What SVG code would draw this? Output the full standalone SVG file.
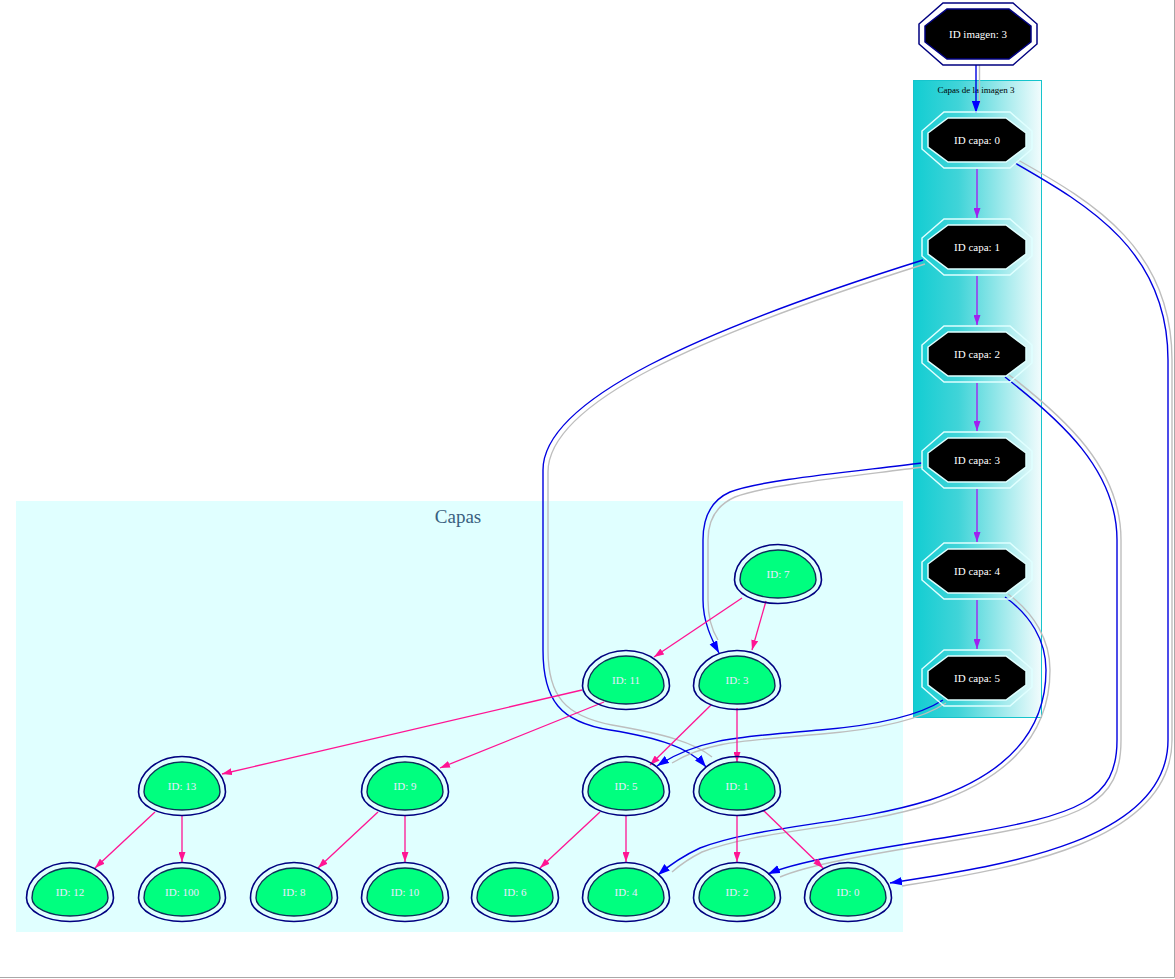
<svg xmlns="http://www.w3.org/2000/svg" width="1175" height="979" viewBox="0 0 1175 979">
<defs>
<style>
.txt{font-family:"Liberation Serif","Times New Roman",serif;font-size:11px;text-anchor:middle;dominant-baseline:central}
.w{fill:#ffffff}
.g{fill:#eaeaff}
.egg-o{fill:none;stroke:#000080;stroke-width:1.6}
.egg-i{fill:#00FF7F;stroke:#0f2f5a;stroke-width:1.4}
.oct-o{fill:none;stroke:#e0ffff;stroke-width:1.5}
.oct-i{fill:#000000;stroke:#e0ffff;stroke-width:1.5}
.pink{fill:none;stroke:#FF1493;stroke-width:1.3}
.purp{fill:none;stroke:#9B30F0;stroke-width:1.5}
.blue{fill:none;stroke:#0000E0;stroke-width:1.4}
.gray{fill:none;stroke:#BEBEBE;stroke-width:1.4}
</style>
<marker id="ap" viewBox="0 0 10 7" refX="10" refY="3.5" markerWidth="10" markerHeight="7" markerUnits="userSpaceOnUse" orient="auto"><path d="M0,0 L10,3.5 L0,7 z" fill="#FF1493"/></marker>
<marker id="au" viewBox="0 0 10 7" refX="10" refY="3.5" markerWidth="10" markerHeight="7" markerUnits="userSpaceOnUse" orient="auto"><path d="M0,0 L10,3.5 L0,7 z" fill="#A020F0"/></marker>
<marker id="ab" viewBox="0 0 10 7" refX="10" refY="3.5" markerWidth="12" markerHeight="9" markerUnits="userSpaceOnUse" orient="auto"><path d="M0,0 L10,3.5 L0,7 z" fill="#0000FF"/></marker>
<linearGradient id="cg" x1="0" y1="0" x2="1" y2="0">
<stop offset="0" stop-color="#12cdd2"/>
<stop offset="0.35" stop-color="#40d4d8"/>
<stop offset="1" stop-color="#f2fcfd"/>
</linearGradient>
<path id="eggO" d="M-43.5,6 A43.5,35.5 0 0 1 43.5,6 A43.5,23.5 0 0 1 -43.5,6 z"/>
<path id="eggI" d="M-38,6 A38,30 0 0 1 38,6 A38,18 0 0 1 -38,6 z"/>
</defs>
<rect width="1175" height="979" fill="#ffffff"/>
<polyline points="0,977.5 1174.5,977.5 1174.5,0" fill="none" stroke="#a8a8a8" stroke-width="1"/>

<g id="cluster_capas">
<rect x="16" y="501" width="887" height="431" fill="#E0FFFF"/>
<text x="458" y="516" style="font-family:'Liberation Serif','Times New Roman',serif;font-size:19px;text-anchor:middle;dominant-baseline:central" fill="#3A5F80">Capas</text>
</g>
<g id="cluster_imagen">
<rect x="913.5" y="80.5" width="128" height="637" fill="url(#cg)" stroke="#16c4cc" stroke-width="1"/>
<text x="976" y="90" style="font-family:'Liberation Serif','Times New Roman',serif;font-size:9px;text-anchor:middle;dominant-baseline:central" fill="#000">Capas de la imagen 3</text>
</g>

<g id="edges">
<path class="gray" d="M979.5,65 L979.5,104"/>
<path class="blue" d="M976,65 L976,113" marker-end="url(#ab)"/>
<path class="purp" d="M977,169 L977,218" marker-end="url(#au)"/>
<path class="purp" d="M977,276 L977,325" marker-end="url(#au)"/>
<path class="purp" d="M977,383 L977,431" marker-end="url(#au)"/>
<path class="purp" d="M977,489 L977,542" marker-end="url(#au)"/>
<path class="purp" d="M977,600 L977,649" marker-end="url(#au)"/>

<path class="gray" d="M1018,160 C1095,203 1172,250 1172,360 L1172,740 C1172,846 1000,870 902,886"/>
<path class="blue" d="M1015,163 C1090,206 1168,252 1168,360 L1168,740 C1168,842 1000,866 890,883" marker-end="url(#ab)"/>

<path class="gray" d="M925,264 C704,334 548,402 548,472 L548,650 C548,696 565,716 612,725 C665,734 695,743 712,757"/>
<path class="blue" d="M923,260 C700,330 543,400 543,470 L543,650 C543,700 560,722 610,730 C660,738 690,748 706,767" marker-end="url(#ab)"/>

<path class="gray" d="M1008,374 C1065,418 1121,468 1121,540 L1121,740 C1121,804 1084,819 962,839 C872,854 810,864 780,877"/>
<path class="blue" d="M1005,377 C1060,420 1117,470 1117,540 L1117,740 C1117,800 1080,815 960,835 C870,850 800,860 768,874" marker-end="url(#ab)"/>

<path class="gray" d="M923,467 C855,476 765,485 735,497 C717,505 708,520 708,540 L708,600 C708,620 713,632 718,640"/>
<path class="blue" d="M922,463 C850,472 760,480 730,492 C712,500 703,515 703,540 L703,600 C703,622 712,640 719,653" marker-end="url(#ab)"/>

<path class="gray" d="M1008,594 C1034,613 1050,640 1050,670 C1050,722 1024,773 932,804 C852,829 762,829 702,852 C690,858 680,865 672,872"/>
<path class="blue" d="M1005,597 C1030,615 1046,640 1046,670 C1046,720 1020,770 930,800 C850,825 760,825 700,848 C685,855 672,863 658,875" marker-end="url(#ab)"/>

<path class="gray" d="M946,703 C922,719 882,729 822,734 C744,741 708,741 672,763"/>
<path class="blue" d="M943,700 C920,715 880,725 820,730 C740,737 700,738 657,766" marker-end="url(#ab)"/>

<path class="pink" d="M742,598 L654,657" marker-end="url(#ap)"/>
<path class="pink" d="M766,601 L752,650" marker-end="url(#ap)"/>
<path class="pink" d="M582,690 L222,774" marker-end="url(#ap)"/>
<path class="pink" d="M604,702 L440,768" marker-end="url(#ap)"/>
<path class="pink" d="M711,705 L650,765" marker-end="url(#ap)"/>
<path class="pink" d="M737,708 L737,762" marker-end="url(#ap)"/>
<path class="pink" d="M155,812 L95,868" marker-end="url(#ap)"/>
<path class="pink" d="M182,815 L182,862" marker-end="url(#ap)"/>
<path class="pink" d="M378,812 L318,868" marker-end="url(#ap)"/>
<path class="pink" d="M405,815 L405,862" marker-end="url(#ap)"/>
<path class="pink" d="M600,812 L540,868" marker-end="url(#ap)"/>
<path class="pink" d="M626,815 L626,862" marker-end="url(#ap)"/>
<path class="pink" d="M737,815 L737,862" marker-end="url(#ap)"/>
<path class="pink" d="M763,810 L823,868" marker-end="url(#ap)"/>
</g>

<g id="img3" transform="translate(978,34)">
<polygon points="-35,-31 35,-31 59,-10 59,10 35,31 -35,31 -59,10 -59,-10" fill="none" stroke="#000080" stroke-width="1.5"/>
<polygon points="-31,-25 31,-25 53,-8 53,8 31,25 -31,25 -53,8 -53,-8" fill="#000" stroke="#000080" stroke-width="1.5"/>
<text class="txt w" x="0" y="0">ID imagen: 3</text>
</g>

<g id="capa0" transform="translate(977,140)">
<polygon class="oct-o" points="-33,-28 33,-28 55,-9 55,9 33,28 -33,28 -55,9 -55,-9"/>
<polygon class="oct-i" points="-29,-22 29,-22 49,-7 49,7 29,22 -29,22 -49,7 -49,-7"/>
<text class="txt w" x="0" y="0">ID capa: 0</text>
</g>
<g id="capa1" transform="translate(977,247)">
<polygon class="oct-o" points="-33,-28 33,-28 55,-9 55,9 33,28 -33,28 -55,9 -55,-9"/>
<polygon class="oct-i" points="-29,-22 29,-22 49,-7 49,7 29,22 -29,22 -49,7 -49,-7"/>
<text class="txt w" x="0" y="0">ID capa: 1</text>
</g>
<g id="capa2" transform="translate(977,354)">
<polygon class="oct-o" points="-33,-28 33,-28 55,-9 55,9 33,28 -33,28 -55,9 -55,-9"/>
<polygon class="oct-i" points="-29,-22 29,-22 49,-7 49,7 29,22 -29,22 -49,7 -49,-7"/>
<text class="txt w" x="0" y="0">ID capa: 2</text>
</g>
<g id="capa3" transform="translate(977,460)">
<polygon class="oct-o" points="-33,-28 33,-28 55,-9 55,9 33,28 -33,28 -55,9 -55,-9"/>
<polygon class="oct-i" points="-29,-22 29,-22 49,-7 49,7 29,22 -29,22 -49,7 -49,-7"/>
<text class="txt w" x="0" y="0">ID capa: 3</text>
</g>
<g id="capa4" transform="translate(977,571)">
<polygon class="oct-o" points="-33,-28 33,-28 55,-9 55,9 33,28 -33,28 -55,9 -55,-9"/>
<polygon class="oct-i" points="-29,-22 29,-22 49,-7 49,7 29,22 -29,22 -49,7 -49,-7"/>
<text class="txt w" x="0" y="0">ID capa: 4</text>
</g>
<g id="capa5" transform="translate(977,678)">
<polygon class="oct-o" points="-33,-28 33,-28 55,-9 55,9 33,28 -33,28 -55,9 -55,-9"/>
<polygon class="oct-i" points="-29,-22 29,-22 49,-7 49,7 29,22 -29,22 -49,7 -49,-7"/>
<text class="txt w" x="0" y="0">ID capa: 5</text>
</g>

<g id="n7" transform="translate(778,574)"><use href="#eggO" class="egg-o"/><use href="#eggI" class="egg-i"/><text class="txt g" x="0" y="0">ID: 7</text></g>
<g id="n11" transform="translate(626,680)"><use href="#eggO" class="egg-o"/><use href="#eggI" class="egg-i"/><text class="txt g" x="0" y="0">ID: 11</text></g>
<g id="n3" transform="translate(737,680)"><use href="#eggO" class="egg-o"/><use href="#eggI" class="egg-i"/><text class="txt g" x="0" y="0">ID: 3</text></g>
<g id="n13" transform="translate(182,786)"><use href="#eggO" class="egg-o"/><use href="#eggI" class="egg-i"/><text class="txt g" x="0" y="0">ID: 13</text></g>
<g id="n9" transform="translate(405,786)"><use href="#eggO" class="egg-o"/><use href="#eggI" class="egg-i"/><text class="txt g" x="0" y="0">ID: 9</text></g>
<g id="n5" transform="translate(626,786)"><use href="#eggO" class="egg-o"/><use href="#eggI" class="egg-i"/><text class="txt g" x="0" y="0">ID: 5</text></g>
<g id="n1" transform="translate(737,786)"><use href="#eggO" class="egg-o"/><use href="#eggI" class="egg-i"/><text class="txt g" x="0" y="0">ID: 1</text></g>
<g id="n12" transform="translate(70,892)"><use href="#eggO" class="egg-o"/><use href="#eggI" class="egg-i"/><text class="txt g" x="0" y="0">ID: 12</text></g>
<g id="n100" transform="translate(182,892)"><use href="#eggO" class="egg-o"/><use href="#eggI" class="egg-i"/><text class="txt g" x="0" y="0">ID: 100</text></g>
<g id="n8" transform="translate(294,892)"><use href="#eggO" class="egg-o"/><use href="#eggI" class="egg-i"/><text class="txt g" x="0" y="0">ID: 8</text></g>
<g id="n10" transform="translate(405,892)"><use href="#eggO" class="egg-o"/><use href="#eggI" class="egg-i"/><text class="txt g" x="0" y="0">ID: 10</text></g>
<g id="n6" transform="translate(515,892)"><use href="#eggO" class="egg-o"/><use href="#eggI" class="egg-i"/><text class="txt g" x="0" y="0">ID: 6</text></g>
<g id="n4" transform="translate(626,892)"><use href="#eggO" class="egg-o"/><use href="#eggI" class="egg-i"/><text class="txt g" x="0" y="0">ID: 4</text></g>
<g id="n2" transform="translate(737,892)"><use href="#eggO" class="egg-o"/><use href="#eggI" class="egg-i"/><text class="txt g" x="0" y="0">ID: 2</text></g>
<g id="n0" transform="translate(848,892)"><use href="#eggO" class="egg-o"/><use href="#eggI" class="egg-i"/><text class="txt g" x="0" y="0">ID: 0</text></g>
</svg>
